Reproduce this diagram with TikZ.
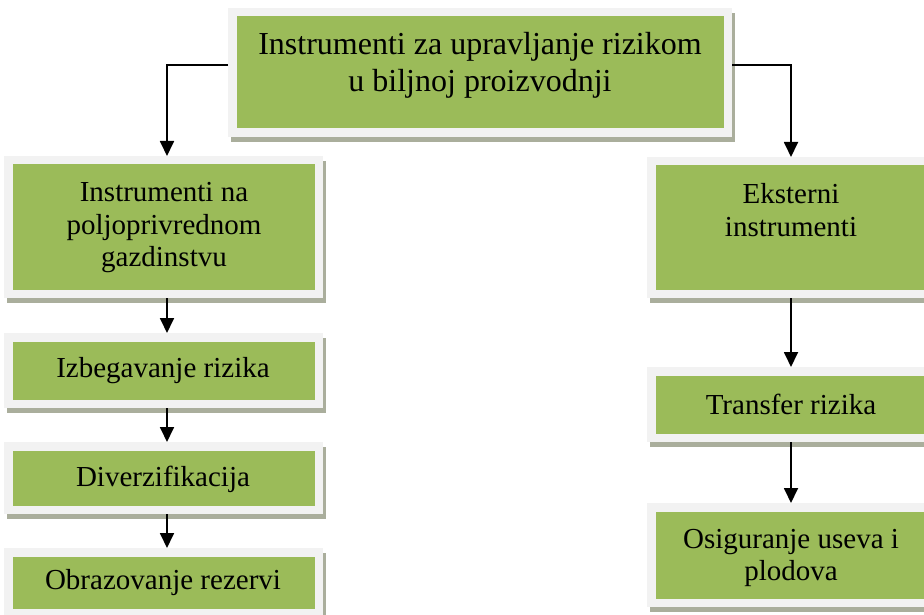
\documentclass[tikz,border=0pt]{standalone}
\usepackage{fontspec}
\setmainfont{Liberation Serif}
\usetikzlibrary{arrows.meta}
\definecolor{boxgreen}{HTML}{9BBB59}
\definecolor{framegray}{HTML}{F2F2F2}
\definecolor{shadowcol}{HTML}{AAAE9C}
\tikzset{
  box/.style={draw=framegray, fill=boxgreen, line width=8.5pt, inner sep=0pt,
    preaction={draw=shadowcol, fill=shadowcol, line width=8.5pt, transform canvas={shift={(3pt,-5pt)}}}},
  txt/.style={font=\fontsize{29}{32.5}\selectfont, align=center, text=black, inner sep=0pt},
  bigtxt/.style={txt, font=\fontsize{32}{36.8}\selectfont},
  arr/.style={line width=1.8pt, -{Triangle[width=14pt,length=15pt]}}
}
\begin{document}
\begin{tikzpicture}[x=1pt,y=-1pt]
\useasboundingbox (0,0) rectangle (924,615);
\clip (0,0) rectangle (924,615);
% boxes
\node[box, minimum width=495.5pt, minimum height=120.5pt] (top) at (480,72.5) {};
\node[box, minimum width=310.5pt, minimum height=133.5pt] (l1) at (163.5,227) {};
\node[box, minimum width=310.5pt, minimum height=66.5pt] (l2) at (163.5,370.5) {};
\node[box, minimum width=310.5pt, minimum height=63.5pt] (l3) at (163.5,478) {};
\node[box, minimum width=310.5pt, minimum height=60.5pt] (l4) at (163.5,582.5) {};
\node[box, minimum width=279.5pt, minimum height=132.5pt] (r1) at (791,227.5) {};
\node[box, minimum width=279.5pt, minimum height=66.5pt] (r2) at (791,404.5) {};
\node[box, minimum width=279.5pt, minimum height=95.5pt] (r3) at (791,555) {};
% texts
\node[bigtxt] (ttop) at (480,65) {Instrumenti za upravljanje rizikom\\u biljnoj proizvodnji};
\node[txt] (tl1) at (164,228) {Instrumenti na\\poljoprivrednom\\gazdinstvu};
\node[txt] (tl2) at (163,371) {Izbegavanje rizika};
\node[txt] (tl3) at (163,479) {Diverzifikacija};
\node[txt] (tl4) at (163,583) {Obrazovanje rezervi};
\node[txt] (tr1) at (791,210) {Eksterni\\instrumenti};
\node[txt] (tr2) at (791,404) {Transfer rizika};
\node[txt] (tr3) at (791,558) {Osiguranje useva i\\plodova};
% connectors
\draw[arr] ([yshift=7.5pt]top.west) -| ([xshift=3.5pt]l1.north);
\draw[arr] ([yshift=7.5pt]top.east) -| (r1.north);
\draw[arr] ([xshift=3.5pt]l1.south) -- ([xshift=3.5pt]l2.north);
\draw[arr] ([xshift=3.5pt]l2.south) -- ([xshift=3.5pt]l3.north);
\draw[arr] ([xshift=3.5pt]l3.south) -- ([xshift=3.5pt]l4.north);
\draw[arr] (r1.south) -- (r2.north);
\draw[arr] (r2.south) -- (r3.north);
\end{tikzpicture}
\end{document}
